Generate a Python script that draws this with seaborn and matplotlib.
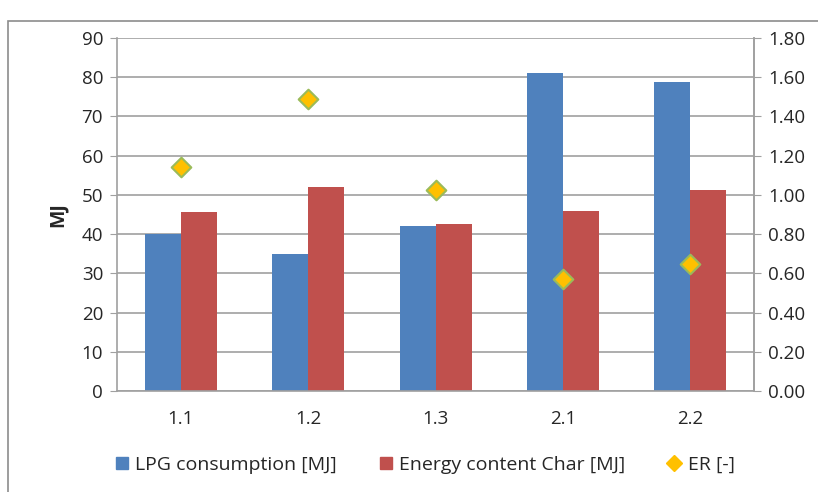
import pandas as pd
import matplotlib.pyplot as plt
import seaborn as sns
from matplotlib.lines import Line2D
from matplotlib.patches import Patch, Rectangle

# data
categories = ['1.1', '1.2', '1.3', '2.1', '2.2']
lpg_mj = [40.0, 35.0, 42.1, 81.1, 78.8]
char_mj = [45.7, 52.1, 42.6, 45.9, 51.2]
er = [1.14, 1.49, 1.025, 0.57, 0.65]

lpg_label = 'LPG consumption [MJ]'
char_label = 'Energy content Char [MJ]'
er_label = 'ER [-]'

df = pd.DataFrame({'run': categories * 2,
                   'value': lpg_mj + char_mj,
                   'series': [lpg_label] * 5 + [char_label] * 5})
er_df = pd.DataFrame({'run': categories, 'er': er})

sns.set_style('white')
plt.rcParams['font.family'] = ['Open Sans', 'DejaVu Sans']

fig = plt.figure(figsize=(8.18, 4.92), dpi=100)
ax = fig.add_axes([0.143, 0.2053, 0.779, 0.7175])
grid_c = '#A0A0A0'

sns.barplot(data=df, x='run', y='value', hue='series', ax=ax,
            palette=['#4F81BD', '#C0504D'], width=0.565, saturation=1,
            legend=False, linewidth=0, zorder=2)
ax.set_ylim(0, 90)
ax.set_yticks(range(0, 91, 10))
ax.set_xlim(-0.5, 4.5)
ax.yaxis.grid(True, color=grid_c, linewidth=1.2, zorder=0)
ax.set_axisbelow(True)
ax.set_xlabel('')
ax.set_ylabel('MJ', fontsize=14, fontweight='bold', labelpad=10)
ax.tick_params(axis='y', labelsize=13.5, length=5, color=grid_c, pad=5)
ax.tick_params(axis='x', labelsize=13.5, length=0, pad=14)
ax.set_xticks([x - 0.5 for x in range(6)], minor=True)
ax.tick_params(axis='x', which='minor', length=6, color=grid_c)
ax.spines['top'].set_visible(False)
for s in ['left', 'right', 'bottom']:
    ax.spines[s].set_color(grid_c)
    ax.spines[s].set_linewidth(1.2)

ax2 = ax.twinx()
sns.scatterplot(data=er_df, x='run', y='er', ax=ax2, marker='D', s=100,
                color='#FFC000', edgecolor='#9BBB59', linewidth=1.5,
                zorder=5, legend=False)
ax2.set_ylim(0, 1.8)
ax2.set_yticks([i * 0.2 for i in range(10)])
ax2.set_yticklabels([f'{i * 0.2:.2f}' for i in range(10)])
ax2.set_ylabel('')
ax2.tick_params(axis='y', labelsize=13.5, length=5, color=grid_c, pad=5)
for s in ['top', 'left', 'bottom']:
    ax2.spines[s].set_visible(False)
ax2.spines['right'].set_color(grid_c)
ax2.spines['right'].set_linewidth(1.2)

handles = [Patch(color='#4F81BD', label=lpg_label),
           Patch(color='#C0504D', label=char_label),
           Line2D([], [], marker='D', linestyle='none', markersize=8,
                  markerfacecolor='#FFC000', markeredgecolor='#FFC000',
                  label=er_label)]
fig.legend(handles=handles, loc='center', bbox_to_anchor=(0.52, 0.055),
           ncol=3, frameon=False, fontsize=14, handlelength=0.6,
           handleheight=0.6, columnspacing=2.2, handletextpad=0.4)

fig.patches.append(Rectangle((0.01, -0.05), 1.2, 1.0075, transform=fig.transFigure,
                             fill=False, edgecolor='#8C8C8C', linewidth=1.2))

fig.savefig('out.png', dpi=100)
